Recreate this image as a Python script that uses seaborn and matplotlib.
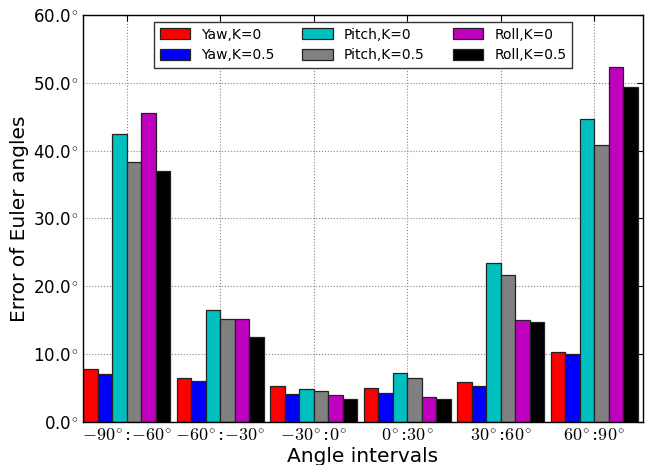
import matplotlib
matplotlib.use("Agg")
import matplotlib.pyplot as plt
import seaborn as sns
import pandas as pd

intervals = [r"$-90^{\!\circ}$:$-60^{\!\circ}$", r"$-60^{\!\circ}$:$-30^{\!\circ}$", r"$-30^{\!\circ}$:$0^{\!\circ}$",
             r"$0^{\!\circ}$:$30^{\!\circ}$", r"$30^{\!\circ}$:$60^{\!\circ}$", r"$60^{\!\circ}$:$90^{\!\circ}$"]
series = ["Yaw,K=0", "Yaw,K=0.5", "Pitch,K=0", "Pitch,K=0.5", "Roll,K=0", "Roll,K=0.5"]
yaw_k0 = [7.77, 6.49, 5.21, 5.01, 5.85, 10.23]
yaw_k05 = [7.03, 5.95, 4.13, 4.23, 5.31, 9.93]
pitch_k0 = [42.5, 16.5, 4.82, 7.18, 23.35, 44.69]
pitch_k05 = [38.25, 15.14, 4.57, 6.39, 21.58, 40.8]
roll_k0 = [45.6, 15.14, 3.93, 3.64, 15.04, 52.36]
roll_k05 = [36.97, 12.44, 3.39, 3.39, 14.75, 49.31]
colors = ["#ff0000", "#0000ff", "#00bfbf", "#808080", "#bf00bf", "#000000"]

values = [yaw_k0, yaw_k05, pitch_k0, pitch_k05, roll_k0, roll_k05]
rows = []
for s, vals in zip(series, values):
    for iv, v in zip(intervals, vals):
        rows.append({"interval": iv, "series": s, "value": v})
df = pd.DataFrame(rows)

sns.set_style("white")
plt.rcParams["font.family"] = ["DejaVu Sans"]
plt.rcParams["mathtext.fontset"] = "cm"
for k in ["text.color", "axes.labelcolor", "xtick.color", "ytick.color"]:
    plt.rcParams[k] = "black"

fig = plt.figure(figsize=(6.45, 4.65), dpi=100)
ax = fig.add_axes([0.1287, 0.093, 0.8683, 0.8747])

sns.barplot(data=df, x="interval", y="value", hue="series", order=intervals,
            hue_order=series, palette=colors, saturation=1, width=0.93,
            edgecolor="#222222", linewidth=0.9, ax=ax)

ax.set_xlim(-0.465, 5.52)
ax.set_ylim(0, 60)
ax.set_yticks(range(0, 61, 10))
ax.set_yticklabels([f"{v:.1f}" + r"$^{\!\circ}$" for v in range(0, 61, 10)], fontsize=12)
ax.set_xticks(range(len(intervals)))
ax.set_xticklabels(intervals, fontsize=13, family=["DejaVu Serif"])
ax.set_xlabel("Angle intervals", fontsize=14.5, labelpad=2)
ax.set_ylabel("Error of Euler angles", fontsize=14.5, labelpad=3)

ax.set_axisbelow(True)
ax.grid(True, linestyle=":", color="#888888", linewidth=0.8)
for sp in ax.spines.values():
    sp.set_visible(True)
    sp.set_color("black")
    sp.set_linewidth(1.0)
ax.tick_params(direction="in", top=True, right=True, length=4, width=0.8, color="black")

leg = ax.legend(loc="upper center", ncol=3, fontsize=10, fancybox=False,
                framealpha=1, edgecolor="#333333", handlelength=2.2,
                handleheight=0.9, columnspacing=2.0, labelspacing=0.5)
leg.get_frame().set_linewidth(1.0)

fig.savefig("out.png", dpi=100)
